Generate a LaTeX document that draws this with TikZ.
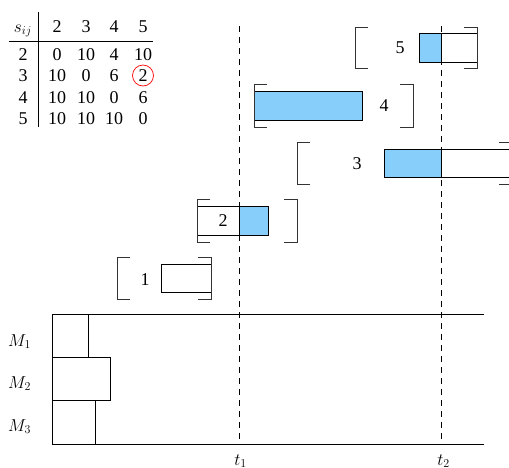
\documentclass[tikz,border=0pt]{standalone}
\usepackage{fontspec}
\setmainfont{Liberation Serif}
\definecolor{jobblue}{RGB}{135,206,250}
\newcommand\jobLbrk[3]{\draw[brk] (#1+13,#2) -- (#1,#2) -- (#1,#3) -- (#1+13,#3);}
\newcommand\jobRbrk[3]{\draw[brk] (#1-13,#2) -- (#1,#2) -- (#1,#3) -- (#1-13,#3);}
\begin{document}
\begin{tikzpicture}[x=1pt,y=-1pt,
  lbl/.style={font=\fontsize{18}{20}\selectfont, inner sep=0pt},
  cell/.style={lbl, anchor=base},
  brk/.style={line width=0.8pt, black!80},
  jobw/.style={draw=black, line width=0.9pt, fill=white},
  jobb/.style={draw=black, line width=0.9pt, fill=jobblue},
  mbox/.style={draw=black, line width=0.8pt},
  mline/.style={draw=black, line width=0.8pt},
  tline/.style={line width=0.8pt, dash pattern=on 6pt off 5pt},
  rule/.style={line width=0.8pt}]
\useasboundingbox (0,0) rectangle (509,467);

% ---------- table ----------
\node[cell] (hs) at (23,32) {$s_{ij}$};
\foreach \c/\x in {2/57,3/86,4/114,5/143}{
  \node[cell] (h\c) at (\x,32) {\c};
}
\foreach \r/\y/\a/\b/\cc/\d in {2/60/0/10/4/10, 3/81.5/10/0/6/2, 4/103/10/10/0/6, 5/124.5/10/10/10/0}{
  \node[cell] (r\r) at (23,\y) {\r};
  \node[cell] (c\r2) at (57,\y) {\a};
  \node[cell] (c\r3) at (86,\y) {\b};
  \node[cell] (c\r4) at (114,\y) {\cc};
  \node[cell] (c\r5) at (143,\y) {\d};
}
\draw[rule] (9,41) -- (153,41);
\draw[rule] (38,12) -- (38,127);
\draw[red, line width=0.7pt] (143,75.5) circle (10.5);

% ---------- job 1 ----------
\draw[jobw] (161,264) rectangle (211,292);
\jobLbrk{117}{257}{299}
\jobRbrk{211}{257}{299}
\node[lbl] (j1) at (145,280) {1};

% ---------- job 2 ----------
\draw[jobw] (197,206) rectangle (239.3,235);
\draw[jobb] (239.3,206) rectangle (268.3,235);
\jobLbrk{197}{199}{242}
\jobRbrk{297}{199}{242}
\node[lbl] (j2) at (223,221) {2};

% ---------- job 3 ----------
\draw[jobb] (384,149) rectangle (441.7,177);
\draw[jobw] (441.7,149) rectangle (512,177);
\jobLbrk{297}{142}{184}
\jobRbrk{512}{142}{184}
\node[lbl] (j3) at (357,164) {3};

% ---------- job 4 ----------
\draw[jobb] (254,91) rectangle (362.3,120);
\jobLbrk{254}{84}{127}
\jobRbrk{413}{84}{127}
\node[lbl] (j4) at (384,106) {4};

% ---------- job 5 ----------
\draw[jobb] (419,33) rectangle (441.7,62);
\draw[jobw] (441.7,33) rectangle (477.3,62);
\jobLbrk{355}{27}{68}
\jobRbrk{477.3}{27}{68}
\node[lbl] (j5) at (400,48) {5};

% ---------- machines ----------
\draw[mbox] (52.3,314.3) rectangle (88.3,357.3);
\draw[mbox] (52.3,357.3) rectangle (110.3,400.7);
\draw[mbox] (52.3,400.7) rectangle (95.7,444);
\coordinate (mtl) at (52.3,314.3);
\coordinate (mtr) at (484.3,314.3);
\coordinate (mbl) at (52.3,444);
\coordinate (mbr) at (484.3,444);
\draw[mline] (mtl) -- (mtr);
\draw[mline] (mbl) -- (mbr);
\node[lbl, anchor=base west] (m1) at (8,346) {$M_1$};
\node[lbl, anchor=base west] (m2) at (8,388) {$M_2$};
\node[lbl, anchor=base west] (m3) at (8,431) {$M_3$};

% ---------- time lines ----------
\coordinate (t1top) at (239.3,26);
\coordinate (t1bot) at (239.3,444);
\coordinate (t2top) at (441.7,26);
\coordinate (t2bot) at (441.7,444);
\draw[tline] (t1top) -- (t1bot);
\draw[tline] (t2top) -- (t2bot);
\node[lbl, anchor=base] (t1) at (240.5,465) {$t_1$};
\node[lbl, anchor=base] (t2) at (443.5,465) {$t_2$};
\end{tikzpicture}
\end{document}
